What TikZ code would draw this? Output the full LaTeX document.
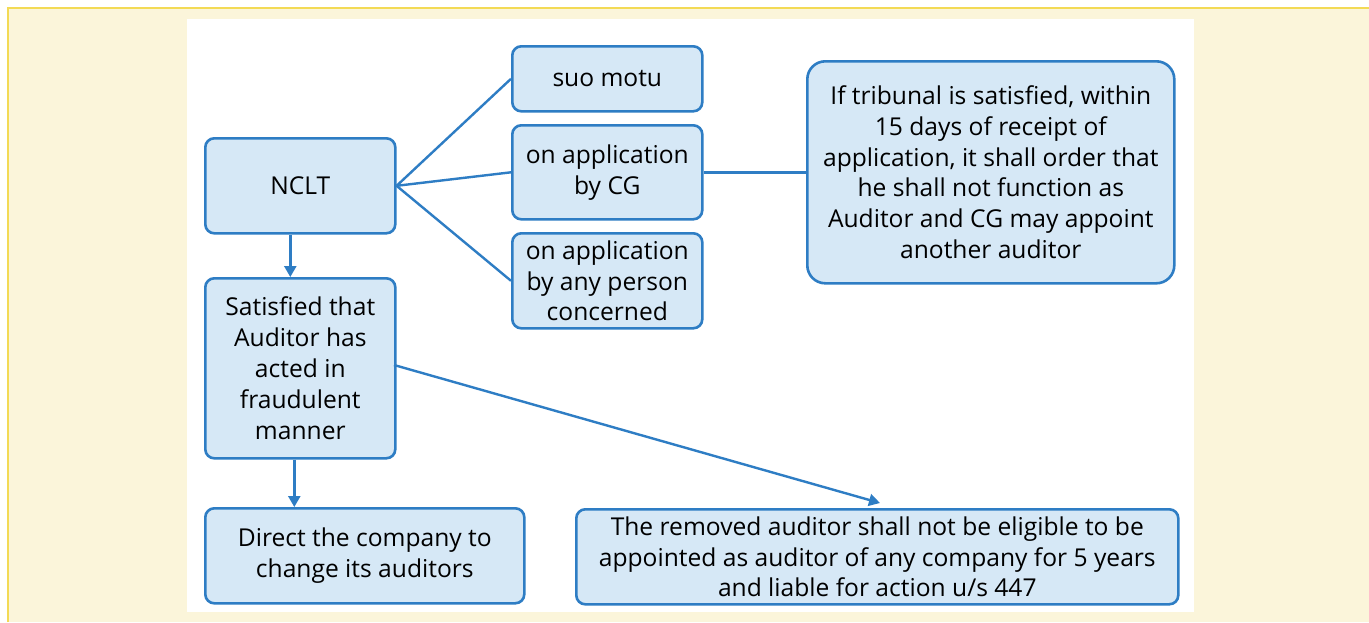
\documentclass[tikz,border=0pt]{standalone}
\usepackage{fontspec}
\setmainfont{Open Sans}
\usetikzlibrary{arrows.meta}
\definecolor{cream}{HTML}{FBF5DA}
\definecolor{frameyellow}{HTML}{F3DA55}
\definecolor{boxfill}{HTML}{D6E8F6}
\definecolor{boxline}{HTML}{2E7DC4}
\tikzset{
  box/.style={draw=boxline, fill=boxfill, line width=2.6pt, rounded corners=9pt,
    anchor=north west, inner sep=0pt, align=center, text=black,
    font=\fontsize{24.6}{30.8}\selectfont},
  conn/.style={draw=boxline, line width=2.4pt},
  arr/.style={conn, -{Triangle[length=11pt,width=12pt]}}
}
\begin{document}
\begin{tikzpicture}[x=1pt,y=-1pt]
\useasboundingbox (0,0) rectangle (1369,622);
\fill[white] (0,0) rectangle (1369,622);
\fill[cream] (8,8) rectangle (1369,622);
\draw[frameyellow, line width=2pt] (8,622) -- (8,8) -- (1369,8);
\fill[white] (187,19) rectangle (1194,612);

\node[box, minimum width=190pt, minimum height=95pt] (nclt) at (204,137) {NCLT};
\node[box, minimum width=190pt, minimum height=180pt] (sat) at (204,277)
  {Satisfied that\\Auditor has\\acted in\\fraudulent\\manner};
\node[box, minimum width=319pt, minimum height=95pt] (direct) at (204,507)
  {Direct the company to\\change its auditors};
\node[box, minimum width=190pt, minimum height=65pt] (suo) at (511,45) {suo motu};
\node[box, minimum width=190pt, minimum height=94pt] (cg) at (511,124)
  {on application\\by CG};
\node[box, minimum width=190pt, minimum height=95pt] (any) at (511,232)
  {on application\\by any person\\concerned};
\node[box, minimum width=367pt, minimum height=222pt, rounded corners=18pt] (trib) at (806,60)
  {If tribunal is satisfied, within\\15 days of receipt of\\application, it shall order that\\he shall not function as\\Auditor and CG may appoint\\another auditor};
\node[box, minimum width=602pt, minimum height=95pt] (removed) at (575,508)
  {The removed auditor shall not be eligible to be\\appointed as auditor of any company for 5 years\\and liable for action u/s 447};

\coordinate (hub) at (nclt.east);
\draw[conn] (hub) -- (suo.west);
\draw[conn] (hub) -- (cg.west);
\draw[conn] (hub) -- (any.west);
\draw[conn] (cg.east) -- (trib.west |- cg.east);
\draw[arr] ([xshift=-10pt]nclt.south) -- ([xshift=-10pt]sat.north);
\draw[arr] ([xshift=-6pt]sat.south) -- ([xshift=-6pt]direct.north -| sat.south);
\coordinate (tip) at (880,503);
\draw[arr] (394,365) -- (tip);
\end{tikzpicture}
\end{document}
